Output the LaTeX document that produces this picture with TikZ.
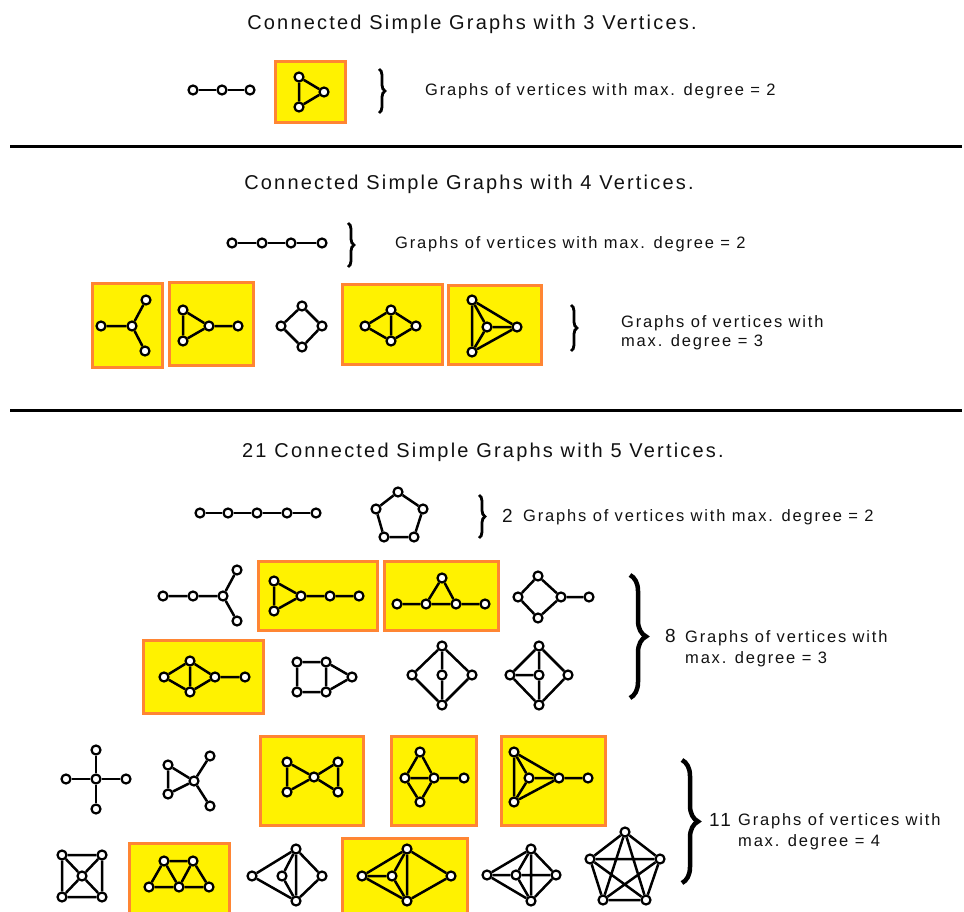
\documentclass[tikz,border=0pt]{standalone}
\usepackage{fontspec}
\setmainfont{Liberation Sans}
\newfontfamily\spacedT[LetterSpace=11]{Liberation Sans}
\newfontfamily\spacedL[LetterSpace=11]{Liberation Sans}
\usetikzlibrary{decorations.pathreplacing}
\definecolor{yel}{HTML}{FFF200}
\definecolor{org}{HTML}{FF8533}
\definecolor{ink}{HTML}{111111}
\begin{document}
\begin{tikzpicture}[x=1pt,y=-1pt,
  v/.style={circle,draw=black,fill=white,line width=2.2pt,minimum size=9pt,inner sep=0pt},
  e/.style={line width=2.5pt,black},
  ybox/.style={fill=yel,draw=org,line width=3pt},
  title/.style={font=\spacedT\fontsize{20}{22}\selectfont,text=ink,anchor=base,inner sep=0pt},
  lab/.style={font=\spacedL\fontsize{16.5}{18}\selectfont,text=ink,anchor=base west,inner sep=0pt},
  num/.style={font=\spacedL\fontsize{19}{21}\selectfont,text=ink,anchor=base west,inner sep=0pt},
  brc/.style={decorate,decoration={brace,amplitude=#1},line width=2.8pt},
  bigbrc/.style={decorate,decoration={brace,amplitude=#1},line width=4.5pt}]
\useasboundingbox (0,0) rectangle (964,912);

% ---------- 3 vertices ----------
\node[title] (t3) at (472,30) {Connected Simple Graphs with 3 Vertices.};
\node[v] (p3a) at (193,90) {}; \node[v] (p3b) at (222,90) {}; \node[v] (p3c) at (250,90) {};
\draw[e] (p3a)--(p3b)--(p3c);
\path[ybox] (275,62) rectangle (345,123);
\node[v] (k3a) at (299,77) {}; \node[v] (k3b) at (324,92) {}; \node[v] (k3c) at (299,107) {};
\draw[e] (k3a)--(k3b)--(k3c)--(k3a);
\draw[brc=6pt] (379,69)--(379,113);
\node[lab] (l3) at (425,96) {Graphs of vertices with max. degree = 2};

\draw[line width=3pt] (10,147)--(962,147);

% ---------- 4 vertices ----------
\node[title] (t4) at (469,190) {Connected Simple Graphs with 4 Vertices.};
\node[v] (p4a) at (232,243) {}; \node[v] (p4b) at (262,243) {}; \node[v] (p4c) at (291,243) {}; \node[v] (p4d) at (322,243) {};
\draw[e] (p4a)--(p4b)--(p4c)--(p4d);
\draw[brc=6pt] (348,223)--(348,267);
\node[lab] (l4a) at (395,248) {Graphs of vertices with max. degree = 2};

\path[ybox] (92,283) rectangle (162,367);
\node[v] (c4c) at (132,326) {}; \node[v] (c4l) at (101,326) {}; \node[v] (c4u) at (146,300) {}; \node[v] (c4d) at (145,351) {};
\draw[e] (c4l)--(c4c)--(c4u) (c4c)--(c4d);

\path[ybox] (169,282) rectangle (253,365);
\node[v] (w4a) at (183,310) {}; \node[v] (w4b) at (183,341) {}; \node[v] (w4c) at (209,326) {}; \node[v] (w4d) at (238,326) {};
\draw[e] (w4a)--(w4b)--(w4c)--(w4a) (w4c)--(w4d);

\node[v] (q4t) at (302,306) {}; \node[v] (q4l) at (281,326) {}; \node[v] (q4r) at (322,326) {}; \node[v] (q4b) at (302,347) {};
\draw[e] (q4t)--(q4l)--(q4b)--(q4r)--(q4t);

\path[ybox] (342,284) rectangle (442,364);
\node[v] (d4l) at (365,326) {}; \node[v] (d4t) at (391,310) {}; \node[v] (d4b) at (391,341) {}; \node[v] (d4r) at (416,326) {};
\draw[e] (d4l)--(d4t)--(d4r)--(d4b)--(d4l) (d4t)--(d4b);

\path[ybox] (448,285) rectangle (541,364);
\node[v] (f4a) at (472,300) {}; \node[v] (f4c) at (487,327) {}; \node[v] (f4r) at (517,327) {}; \node[v] (f4b) at (472,352) {};
\draw[e] (f4a)--(f4b)--(f4r)--(f4a)--(f4c)--(f4r) (f4c)--(f4b);

\draw[brc=6pt] (571,305)--(571,351);
\node[lab] (l4b) at (621,327) {Graphs of vertices with};
\node[lab] (l4c) at (621,346) {max. degree = 3};

\draw[line width=3pt] (10,410)--(962,410);

% ---------- 5 vertices ----------
\node[title] (t5) at (483,457) {21 Connected Simple Graphs with 5 Vertices.};
\node[v] (p5a) at (200,513) {}; \node[v] (p5b) at (228,513) {}; \node[v] (p5c) at (257,513) {}; \node[v] (p5d) at (287,513) {}; \node[v] (p5e) at (316,513) {};
\draw[e] (p5a)--(p5b)--(p5c)--(p5d)--(p5e);
\node[v] (c5a) at (398,492) {}; \node[v] (c5b) at (423,509) {}; \node[v] (c5c) at (414,537) {}; \node[v] (c5d) at (384,537) {}; \node[v] (c5e) at (376,509) {};
\draw[e] (c5a)--(c5b)--(c5c)--(c5d)--(c5e)--(c5a);
\draw[brc=6pt] (479,495)--(479,538);
\node[num] (n2) at (502,522) {2};
\node[lab] (l5a) at (523,521) {Graphs of vertices with max. degree = 2};

% row 2
\node[v] (ga1) at (163,596) {}; \node[v] (ga2) at (193,596) {}; \node[v] (ga3) at (223,596) {}; \node[v] (ga4) at (237,570) {}; \node[v] (ga5) at (237,621) {};
\draw[e] (ga1)--(ga2)--(ga3)--(ga4) (ga3)--(ga5);

\path[ybox] (258,561) rectangle (377,630);
\node[v] (gb1) at (274,581) {}; \node[v] (gb2) at (274,611) {}; \node[v] (gb3) at (301,596) {}; \node[v] (gb4) at (330,596) {}; \node[v] (gb5) at (359,596) {};
\draw[e] (gb1)--(gb2)--(gb3)--(gb1) (gb3)--(gb4)--(gb5);

\path[ybox] (384,561) rectangle (498,630);
\node[v] (gc1) at (397,604) {}; \node[v] (gc2) at (426,604) {}; \node[v] (gc3) at (456,604) {}; \node[v] (gc4) at (485,604) {}; \node[v] (gc5) at (442,578) {};
\draw[e] (gc1)--(gc2)--(gc3)--(gc4) (gc2)--(gc5)--(gc3);

\node[v] (gd1) at (538,576) {}; \node[v] (gd2) at (518,597) {}; \node[v] (gd3) at (538,618) {}; \node[v] (gd4) at (561,597) {}; \node[v] (gd5) at (589,597) {};
\draw[e] (gd1)--(gd2)--(gd3)--(gd4)--(gd1) (gd4)--(gd5);

% row 3
\path[ybox] (143,640) rectangle (263,713);
\node[v] (ge1) at (164,677) {}; \node[v] (ge2) at (190,661) {}; \node[v] (ge3) at (190,692) {}; \node[v] (ge4) at (215,677) {}; \node[v] (ge5) at (245,677) {};
\draw[e] (ge1)--(ge2)--(ge4)--(ge3)--(ge1) (ge2)--(ge3) (ge4)--(ge5);

\node[v] (gf1) at (297,662) {}; \node[v] (gf2) at (326,662) {}; \node[v] (gf3) at (297,692) {}; \node[v] (gf4) at (326,692) {}; \node[v] (gf5) at (352,677) {};
\draw[e] (gf1)--(gf2)--(gf4)--(gf3)--(gf1) (gf2)--(gf5)--(gf4);

\node[v] (gg1) at (442,646) {}; \node[v] (gg2) at (412,675) {}; \node[v] (gg3) at (442,675) {}; \node[v] (gg4) at (472,675) {}; \node[v] (gg5) at (442,705) {};
\draw[e] (gg1)--(gg2)--(gg5)--(gg4)--(gg1) (gg1)--(gg3)--(gg5);

\node[v] (gh1) at (539,646) {}; \node[v] (gh2) at (510,675) {}; \node[v] (gh3) at (539,675) {}; \node[v] (gh4) at (568,675) {}; \node[v] (gh5) at (539,705) {};
\draw[e] (gh1)--(gh2)--(gh5)--(gh4)--(gh1) (gh1)--(gh3)--(gh5) (gh2)--(gh3);

\draw[bigbrc=16pt] (630,575)--(630,698);
\node[num] (n8) at (665,642) {8};
\node[lab] (l5b) at (685,642) {Graphs of vertices with};
\node[lab] (l5c) at (685,663) {max. degree = 3};

% row 4
\node[v] (gi0) at (96,779) {}; \node[v] (gi1) at (96,750) {}; \node[v] (gi2) at (96,809) {}; \node[v] (gi3) at (66,779) {}; \node[v] (gi4) at (126,779) {};
\draw[e] (gi1)--(gi0)--(gi2) (gi3)--(gi0)--(gi4);

\node[v] (gj1) at (168,765) {}; \node[v] (gj2) at (168,794) {}; \node[v] (gj3) at (194,781) {}; \node[v] (gj4) at (210,756) {}; \node[v] (gj5) at (210,806) {};
\draw[e] (gj1)--(gj2)--(gj3)--(gj1) (gj4)--(gj3)--(gj5);

\path[ybox] (260,736) rectangle (363,825);
\node[v] (gk1) at (287,762) {}; \node[v] (gk2) at (287,792) {}; \node[v] (gk3) at (314,777) {}; \node[v] (gk4) at (338,762) {}; \node[v] (gk5) at (338,792) {};
\draw[e] (gk1)--(gk2)--(gk3)--(gk1) (gk4)--(gk5)--(gk3)--(gk4);

\path[ybox] (391,736) rectangle (476,825);
\node[v] (gl1) at (420,752) {}; \node[v] (gl2) at (405,778) {}; \node[v] (gl3) at (434,778) {}; \node[v] (gl4) at (420,802) {}; \node[v] (gl5) at (464,778) {};
\draw[e] (gl1)--(gl2)--(gl4)--(gl3)--(gl1) (gl2)--(gl3)--(gl5);

\path[ybox] (501,736) rectangle (605,825);
\node[v] (gm1) at (514,752) {}; \node[v] (gm2) at (529,778) {}; \node[v] (gm3) at (559,778) {}; \node[v] (gm4) at (514,802) {}; \node[v] (gm5) at (588,778) {};
\draw[e] (gm1)--(gm4)--(gm3)--(gm1)--(gm2)--(gm3) (gm2)--(gm4) (gm3)--(gm5);

% row 5
\node[v] (gn1) at (62,855) {}; \node[v] (gn2) at (102,855) {}; \node[v] (gn3) at (62,897) {}; \node[v] (gn4) at (102,897) {}; \node[v] (gn0) at (82,876) {};
\draw[e] (gn1)--(gn2)--(gn4)--(gn3)--(gn1) (gn1)--(gn0)--(gn4) (gn2)--(gn0)--(gn3);

\path[ybox] (129,843) rectangle (229,915);
\node[v] (go1) at (164,861) {}; \node[v] (go2) at (193,861) {}; \node[v] (go3) at (149,887) {}; \node[v] (go4) at (179,887) {}; \node[v] (go5) at (209,887) {};
\draw[e] (go3)--(go4)--(go5)--(go2)--(go1)--(go3) (go1)--(go4)--(go2);

\node[v] (gp1) at (296,849) {}; \node[v] (gp2) at (252,876) {}; \node[v] (gp3) at (282,876) {}; \node[v] (gp4) at (322,876) {}; \node[v] (gp5) at (296,901) {};
\draw[e] (gp2)--(gp1)--(gp4)--(gp5)--(gp2) (gp1)--(gp3)--(gp5) (gp1)--(gp5);

\path[ybox] (342,838) rectangle (467,915);
\node[v] (gq1) at (407,849) {}; \node[v] (gq2) at (362,876) {}; \node[v] (gq3) at (392,876) {}; \node[v] (gq4) at (451,876) {}; \node[v] (gq5) at (407,901) {};
\draw[e] (gq2)--(gq1)--(gq4)--(gq5)--(gq2)--(gq3) (gq1)--(gq3)--(gq5) (gq1)--(gq5);

\node[v] (gr1) at (531,849) {}; \node[v] (gr2) at (487,875) {}; \node[v] (gr3) at (516,875) {}; \node[v] (gr4) at (556,875) {}; \node[v] (gr5) at (531,901) {};
\draw[e] (gr2)--(gr1)--(gr4)--(gr5)--(gr2)--(gr3)--(gr4) (gr1)--(gr3)--(gr5) (gr1)--(gr5);

\node[v] (gs1) at (625,832) {}; \node[v] (gs2) at (660,859) {}; \node[v] (gs3) at (646,900) {}; \node[v] (gs4) at (603,900) {}; \node[v] (gs5) at (590,859) {};
\draw[e] (gs1)--(gs2)--(gs3)--(gs4)--(gs5)--(gs1)--(gs3)--(gs5)--(gs2)--(gs4)--(gs1);

\draw[bigbrc=16pt] (682,760)--(682,883);
\node[num] (n11) at (709,826) {11};
\node[lab] (l5d) at (738,825) {Graphs of vertices with};
\node[lab] (l5e) at (738,846) {max. degree = 4};
\end{tikzpicture}
\end{document}
